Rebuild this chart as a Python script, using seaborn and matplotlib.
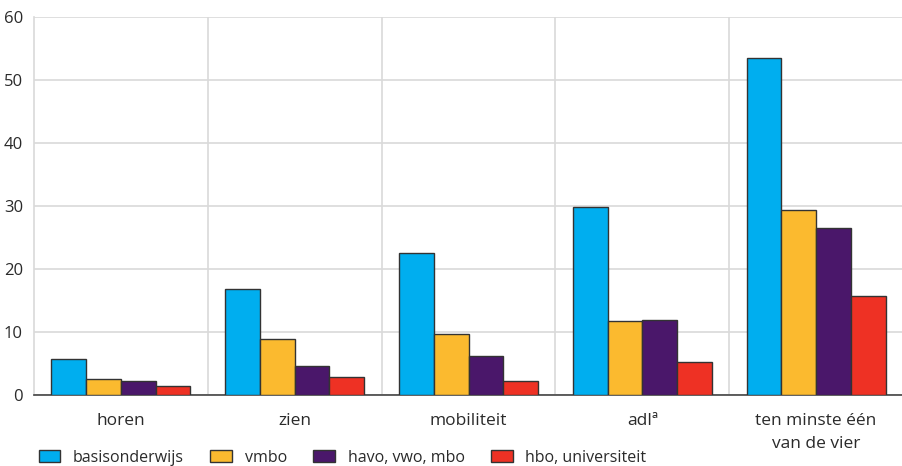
import pandas as pd
import numpy as np
import matplotlib.pyplot as plt
import seaborn as sns

# values (percentages)
categories = ['horen', 'zien', 'mobiliteit', 'adlª', 'ten minste één\nvan de vier']
groups = ['basisonderwijs', 'vmbo', 'havo, vwo, mbo', 'hbo, universiteit']
basisonderwijs = [5.7, 16.8, 22.5, 29.8, 53.5]
vmbo = [2.5, 8.9, 9.7, 11.7, 29.4]
havo_vwo_mbo = [2.2, 4.6, 6.2, 12.0, 26.5]
hbo_universiteit = [1.4, 2.9, 2.2, 5.2, 15.7]

colors = ['#00AEEF', '#FBBA2F', '#4A176A', '#EE3124']

series = [basisonderwijs, vmbo, havo_vwo_mbo, hbo_universiteit]
df = pd.DataFrame({
    'categorie': np.tile(categories, len(groups)),
    'groep': np.repeat(groups, len(categories)),
    'waarde': np.concatenate(series),
})

sns.set_style('white')
plt.rcParams['font.family'] = ['Open Sans', 'DejaVu Sans']

fig = plt.figure(figsize=(9.03, 4.66), dpi=100)
ax = fig.add_axes([0.0377, 0.152, 0.9623, 0.8112])

sns.barplot(data=df, x='categorie', y='waarde', hue='groep', order=categories,
            hue_order=groups, palette=colors, edgecolor='#333333', linewidth=1,
            width=0.8, saturation=1, ax=ax, zorder=3)

ax.set_xlim(-0.5, len(categories) - 0.5)
ax.set_ylim(0, 60)
ax.set_yticks(range(0, 61, 10))
ax.set_xticks(np.arange(0.5, len(categories) - 0.5), minor=True)
ax.grid(axis='y', color='#d9d9d9', linewidth=1.2, zorder=0)
ax.grid(axis='x', which='minor', color='#d9d9d9', linewidth=1.2, zorder=0)
ax.set_axisbelow(True)

for side in ['top', 'right']:
    ax.spines[side].set_visible(False)
ax.spines['left'].set_color('#d9d9d9')
ax.spines['left'].set_linewidth(1.2)
ax.spines['bottom'].set_color('#444444')
ax.spines['bottom'].set_linewidth(1.2)

ax.tick_params(axis='x', which='major', length=6, width=1, color='#444444',
               labelsize=12.5, labelcolor='#2a2a2a', pad=7)
ax.tick_params(axis='x', which='minor', length=0)
ax.tick_params(axis='y', length=0, labelsize=12, labelcolor='#2a2a2a', pad=8)
for lbl in ax.get_xticklabels():
    lbl.set_linespacing(1.55)
ax.set_xlabel('')
ax.set_ylabel('')

handles, labels = ax.get_legend_handles_labels()
ax.legend_.remove()
fig.legend(handles, labels, loc='center left', bbox_to_anchor=(0.027, 0.018),
           ncol=4, frameon=False, fontsize=11.5, handlelength=1.35,
           handleheight=0.85, handletextpad=0.8, columnspacing=1.65,
           labelcolor='#2a2a2a')

plt.savefig('out.png', dpi=100)
